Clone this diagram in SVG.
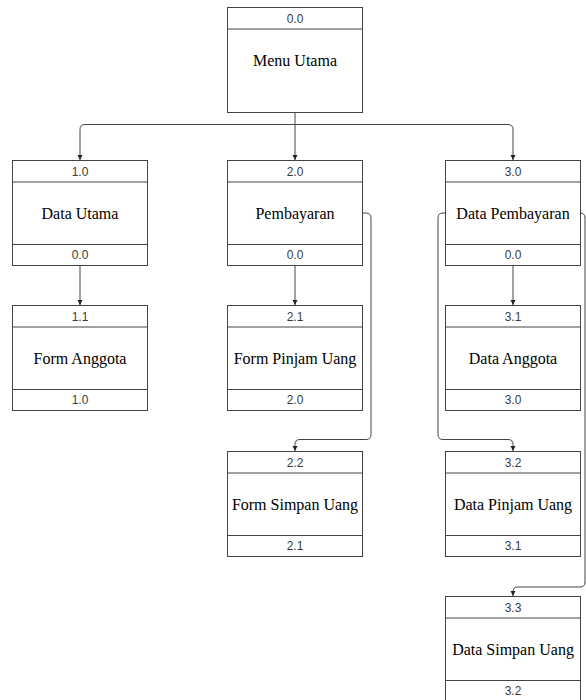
<svg xmlns="http://www.w3.org/2000/svg" width="586" height="700" viewBox="0 0 586 700">
  <style>
    .box { fill: #ffffff; stroke: #444444; stroke-width: 1; }
    .sep { stroke: #444444; stroke-width: 1; }
    .num { font-family: "Liberation Sans", Arial, sans-serif; font-size: 12px; fill: #3a3a3a; text-anchor: middle; }
    .lbl { font-family: "Liberation Serif", "Times New Roman", serif; font-size: 16px; fill: #000000; text-anchor: middle; }
    .wire { fill: none; stroke: #444444; stroke-width: 1; marker-end: url(#arrow); }
  </style>
  <defs>
    <marker id="arrow" markerUnits="userSpaceOnUse" markerWidth="6" markerHeight="6" refX="5" refY="3" orient="auto">
      <path d="M0,0.5 L5,3 L0,5.5 z" fill="#222222"/>
    </marker>
    <!-- standard module box: header id, body label, footer parent id -->
    <g id="frame">
      <rect class="box" x="0" y="0" width="135" height="105"/>
      <line class="sep" x1="0" y1="21.5" x2="135" y2="21.5"/>
      <line class="sep" x1="0" y1="84" x2="135" y2="84"/>
    </g>
  </defs>

  <rect width="586" height="700" fill="#ffffff"/>

  <!-- connectors -->
  <g id="connectors">
    <path class="wire" d="M295,112 L295,160"/>
    <path class="wire" d="M295,124.5 L85,124.5 Q80,124.5 80,129.5 L80,160"/>
    <path class="wire" d="M295,124.5 L508,124.5 Q513,124.5 513,129.5 L513,160"/>
    <path class="wire" d="M80,265.5 L80,305"/>
    <path class="wire" d="M295,265.5 L295,305"/>
    <path class="wire" d="M513,265.5 L513,305"/>
    <path class="wire" d="M362.5,213 L366,213 Q371,213 371,218 L371,434.5 Q371,439.5 366,439.5 L300,439.5 Q295,439.5 295,444.5 L295,451"/>
    <path class="wire" d="M445.5,213 L443,213 Q438,213 438,218 L438,434.5 Q438,439.5 443,439.5 L508,439.5 Q513,439.5 513,444.5 L513,451"/>
    <path class="wire" d="M580.5,213 L580,213 Q585,213 585,218 L585,582 Q585,587 580,587 L518,587 Q513,587 513,592 L513,596"/>
  </g>

  <!-- root menu (no footer rule) -->
  <g id="n0-0" transform="translate(227.5,7.5)">
    <rect class="box" x="0" y="0" width="135" height="105"/>
    <line class="sep" x1="0" y1="21.5" x2="135" y2="21.5"/>
    <text class="num" x="67.5" y="15">0.0</text>
    <text class="lbl" x="67.5" y="58">Menu Utama</text>
  </g>

  <g id="n1-0" transform="translate(12.5,160.5)">
    <use href="#frame"/>
    <text class="num" x="67.5" y="15">1.0</text>
    <text class="lbl" x="67.5" y="58">Data Utama</text>
    <text class="num" x="67.5" y="98.5">0.0</text>
  </g>

  <g id="n2-0" transform="translate(227.5,160.5)">
    <use href="#frame"/>
    <text class="num" x="67.5" y="15">2.0</text>
    <text class="lbl" x="67.5" y="58">Pembayaran</text>
    <text class="num" x="67.5" y="98.5">0.0</text>
  </g>

  <g id="n3-0" transform="translate(445.5,160.5)">
    <use href="#frame"/>
    <text class="num" x="67.5" y="15">3.0</text>
    <text class="lbl" x="67.5" y="58">Data Pembayaran</text>
    <text class="num" x="67.5" y="98.5">0.0</text>
  </g>

  <g id="n1-1" transform="translate(12.5,305.5)">
    <use href="#frame"/>
    <text class="num" x="67.5" y="15">1.1</text>
    <text class="lbl" x="67.5" y="58">Form Anggota</text>
    <text class="num" x="67.5" y="98.5">1.0</text>
  </g>

  <g id="n2-1" transform="translate(227.5,305.5)">
    <use href="#frame"/>
    <text class="num" x="67.5" y="15">2.1</text>
    <text class="lbl" x="67.5" y="58">Form Pinjam Uang</text>
    <text class="num" x="67.5" y="98.5">2.0</text>
  </g>

  <g id="n3-1" transform="translate(445.5,305.5)">
    <use href="#frame"/>
    <text class="num" x="67.5" y="15">3.1</text>
    <text class="lbl" x="67.5" y="58">Data Anggota</text>
    <text class="num" x="67.5" y="98.5">3.0</text>
  </g>

  <g id="n2-2" transform="translate(227.5,451.5)">
    <use href="#frame"/>
    <text class="num" x="67.5" y="15">2.2</text>
    <text class="lbl" x="67.5" y="58">Form Simpan Uang</text>
    <text class="num" x="67.5" y="98.5">2.1</text>
  </g>

  <g id="n3-2" transform="translate(445.5,451.5)">
    <use href="#frame"/>
    <text class="num" x="67.5" y="15">3.2</text>
    <text class="lbl" x="67.5" y="58">Data Pinjam Uang</text>
    <text class="num" x="67.5" y="98.5">3.1</text>
  </g>

  <g id="n3-3" transform="translate(445.5,596.5)">
    <use href="#frame"/>
    <text class="num" x="67.5" y="15">3.3</text>
    <text class="lbl" x="67.5" y="58">Data Simpan Uang</text>
    <text class="num" x="67.5" y="98.5">3.2</text>
  </g>
</svg>
